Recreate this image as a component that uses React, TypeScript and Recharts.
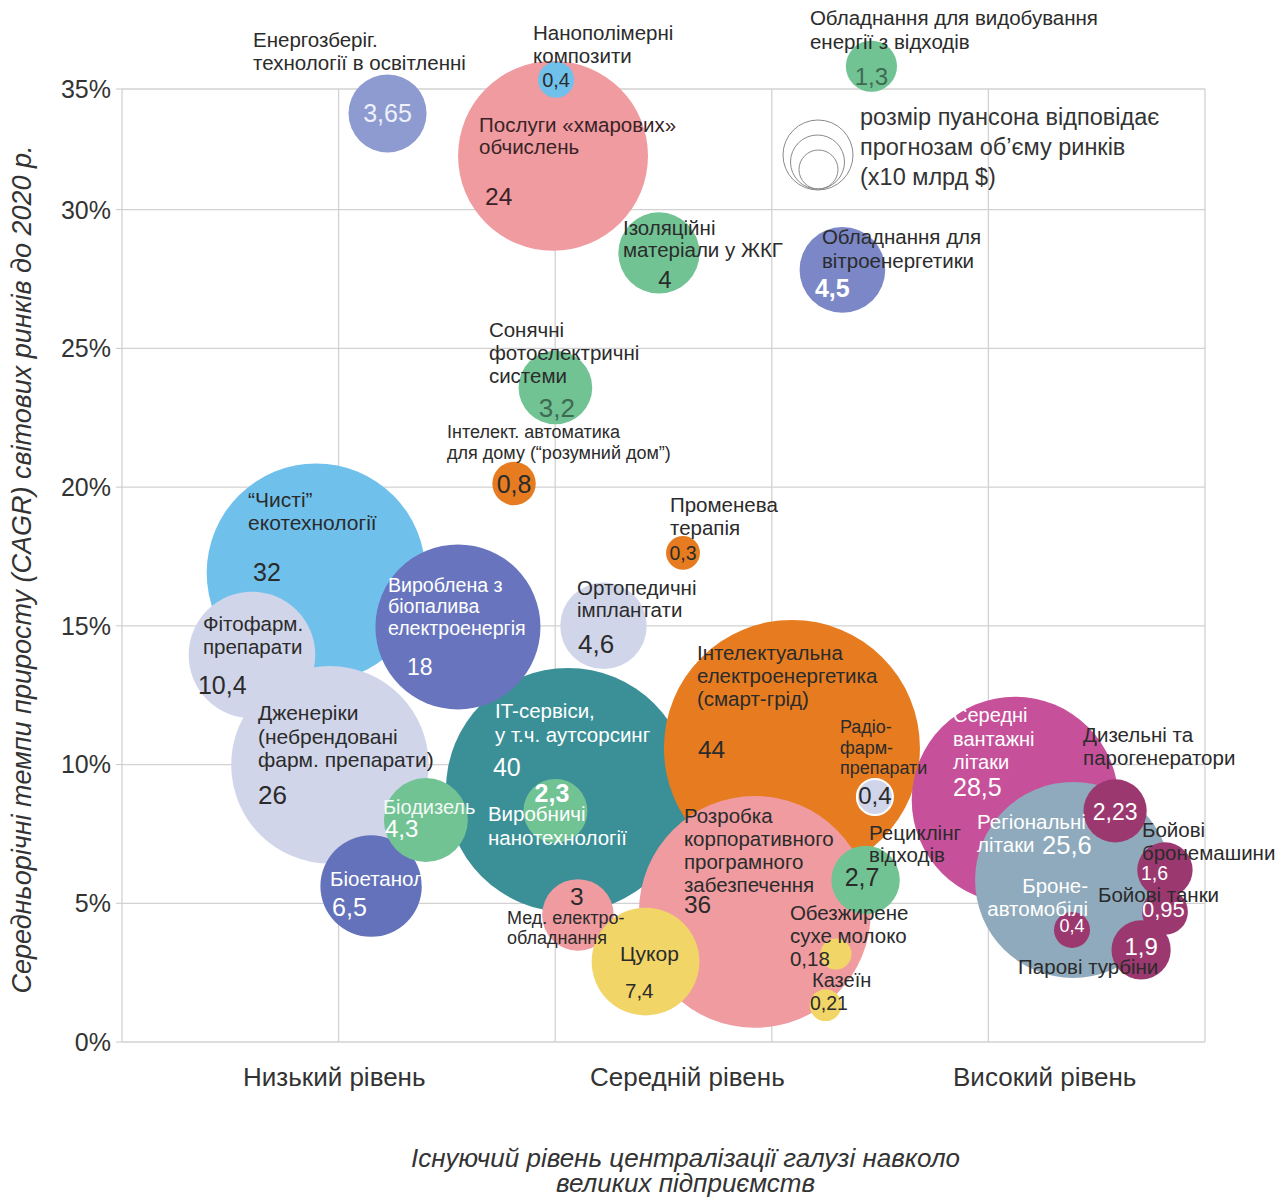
import { CartesianGrid, Label, Scatter, ScatterChart, XAxis, YAxis, ZAxis } from "recharts";

const FONT = '"Liberation Sans", Arial, sans-serif';
const DARK = "#2b2b2b";
const WHITE = "#ffffff";
const GREEN_TXT = "#3e6a52";

// bubbles, listed in drawing order (bottom to top)
const names = [
  "“Чисті”\nекотехнології",
  "Фітофарм.\nпрепарати",
  "Дженеріки\n(небрендовані\nфарм. препарати)",
  "IT-сервіси,\nу т.ч. аутсорсинг",
  "Вироблена з\nбіопалива\nелектроенергія",
  "Біоетанол",
  "Біодизель",
  "Виробничі\nнанотехнології",
  "Ортопедичні\nімплантати",
  "Інтелектуальна\nелектроенергетика\n(смарт-грід)",
  "Середні\nвантажні\nлітаки",
  "Розробка\nкорпоративного\nпрограмного\nзабезпечення",
  "Мед. електро-\nобладнання",
  "Цукор",
  "Рециклінг\nвідходів",
  "Радіо-\nфарм-\nпрепарати",
  "Обезжирене\nсухе молоко",
  "Казеїн",
  "Регіональні\nлітаки",
  "Дизельні та\nпарогенератори",
  "Бойові\nбронемашини",
  "Бойові танки",
  "Броне-\nавтомобілі",
  "Парові турбіни",
  "Послуги «хмарових»\nобчислень",
  "Нанополімерні\nкомпозити",
  "Енергозберіг.\nтехнології в освітленні",
  "Ізоляційні\nматеріали у ЖКГ",
  "Обладнання для\nвітроенергетики",
  "Обладнання для видобування\nенергії з відходів",
  "Сонячні\nфотоелектричні\nсистеми",
  "Інтелект. автоматика\nдля дому (“розумний дом”)",
  "Променева\nтерапія",
];

// position on the centralisation scale (0..5 grid columns)
const level = [
  0.896, 0.6, 0.96, 2.059, 1.551, 1.15, 1.403, 2.001, 2.223, 3.093, 4.123, 2.922, 2.105,
  2.417, 3.433, 3.476, 3.296, 3.248, 4.391, 4.585, 4.815, 4.815, 4.386, 4.705, 1.99, 2.004,
  1.226, 2.479, 3.326, 3.46, 2.001, 1.81, 2.59,
];

// CAGR to 2020, %
const cagr = [
  16.91, 13.95, 9.99, 9.08, 14.96, 5.62, 8.0, 8.33, 15.0, 10.6, 8.72, 4.69, 4.58, 2.9, 5.84,
  8.83, 3.17, 1.33, 5.84, 8.33, 6.2, 4.69, 4.04, 3.32, 31.94, 34.68, 33.47, 28.44, 27.83,
  35.17, 23.59, 20.13, 17.63,
];

// forecast market volume, x10 bn $
const volume = [
  32, 10.4, 26, 40, 18, 6.5, 4.3, 2.3, 4.6, 44, 28.5, 36, 3, 7.4, 2.7, 0.4, 0.18, 0.21, 25.6,
  2.23, 1.6, 0.95, 0.4, 1.9, 24, 0.4, 3.65, 4, 4.5, 1.3, 3.2, 0.8, 0.3,
];

const levelTicks = [0.98, 2.61, 4.26];
const levelNames = ["Низький рівень", "Середній рівень", "Високий рівень"];
const gridLevels = [0, 1, 2, 3, 4, 5];
const cagrTicks = [0, 5, 10, 15, 20, 25, 30, 34.35];

const fills = [
  "#6fc1ec", "#d1d5ea", "#d1d5ea", "#3b9097", "#6875be", "#6372ba", "#72c394", "#72c394",
  "#d1d5ea", "#e67c1f", "#c7509a", "#ef9ba0", "#ef9ba0", "#f2d567", "#72c394", "#d1d5ea",
  "#f2d567", "#f2d567", "#8faabc", "#9b386f", "#9b386f", "#9b386f", "#9b386f", "#9b386f",
  "#ef9ba0", "#6fc1ec", "#8d9bd0", "#72c394", "#7b87c7", "#72c394", "#72c394", "#e67c1f",
  "#e67c1f",
];

// label placement relative to bubble centre:
// [nameX, nameY, lineH, nameSize, nameColor, nameAnchor, valX, valY, valSize, valColor, valAnchor, bold]
type Place = [number, number, number, number, string, string, number, number, number, string, string, number];
const placement: Place[] = [
  [-68, -73, 23, 21, DARK, "start", -63, -1, 25, DARK, "start", 0],
  [-49, -31, 23, 20.5, DARK, "start", -54, 30, 25, DARK, "start", 0],
  [-72, -52, 23.5, 21, DARK, "start", -72, 30, 26, DARK, "start", 0],
  [-73, -80, 24, 20.5, WHITE, "start", -75, -23, 25, WHITE, "start", 0],
  [-70, -42, 21.5, 19.6, WHITE, "start", -51, 40, 23, WHITE, "start", 0],
  [-41, -8, 0, 20.5, WHITE, "start", -39, 21, 25, WHITE, "start", 0],
  [-43, -13, 0, 20, "#f2faf5", "start", -41, 8, 24, WHITE, "start", 0],
  [-67.5, 3, 23.5, 20.5, WHITE, "start", -3.5, -18, 25, WHITE, "middle", 1],
  [-26.5, -38, 22, 20.5, DARK, "start", -25.5, 18, 26, DARK, "start", 0],
  [-95, -95, 23, 20.5, DARK, "start", -94, 2, 24.5, DARK, "start", 0],
  [-62, -85, 23.5, 20, WHITE, "start", -62, -13, 25, WHITE, "start", 0],
  [-71, -96, 23, 20.5, DARK, "start", -71, -7, 24.5, DARK, "start", 0],
  [-71, 3, 20, 18, DARK, "start", -1, -18, 24.5, DARK, "middle", 0],
  [-25.5, -8.5, 0, 21, DARK, "start", -20.5, 28.5, 20.5, DARK, "start", 0],
  [3.5, -47, 22, 20.5, DARK, "start", -3.5, -3, 25, DARK, "middle", 0],
  [-35, -70, 20.5, 18, DARK, "start", 0, -2, 24, DARK, "middle", 0],
  [-46, -42, 23, 20.5, DARK, "start", -46, 4, 20.5, DARK, "start", 0],
  [-13.5, -25, 0, 20, DARK, "start", -15.5, -2, 19.5, DARK, "start", 0],
  [-96, -58, 23, 20.5, WHITE, "start", -31, -35, 25.5, WHITE, "start", 0],
  [-32, -76, 23, 20.5, DARK, "start", 0, 1, 23, WHITE, "middle", 0],
  [-23, -40, 23, 20.5, DARK, "start", -24, 3, 19.5, WHITE, "start", 0],
  [-67, -17, 0, 20.5, DARK, "start", -23, -2, 22, WHITE, "start", 0],
  [16, -44, 23, 20.5, WHITE, "end", 0, -4, 18, WHITE, "middle", 0],
  [-123, 17, 0, 20.5, DARK, "start", 0, -3, 24, WHITE, "middle", 0],
  [-74, -31, 22, 20.5, "#3a2326", "start", -68, 41, 24.5, "#3a2326", "start", 0],
  [-23, -47, 23, 20.5, DARK, "start", 0, 0, 20, DARK, "middle", 0],
  [-134.5, -73.5, 23, 20.5, DARK, "start", 0, 0, 25, "#eef0fa", "middle", 0],
  [-36, -25, 22, 20.5, DARK, "start", 6, 27, 24, DARK, "middle", 0],
  [-20.5, -33, 24, 20.5, DARK, "start", -27.5, 18, 25, WHITE, "start", 1],
  [-61.5, -48.5, 24, 20.5, DARK, "start", 0, 10.5, 24, GREEN_TXT, "middle", 0],
  [-66.5, -58.5, 23, 20.5, DARK, "start", 1.5, 20.5, 26, GREEN_TXT, "middle", 0],
  [-67, -51.5, 21, 18, DARK, "start", 0, 0, 25, DARK, "middle", 0],
  [-13, -48, 23, 20.5, DARK, "start", 0, 0, 19.5, DARK, "middle", 0],
];

const bubbles = names.map((name, i) => ({ i, name, x: level[i], y: cagr[i], z: volume[i] }));

const fmtVolume = (v: number) => String(v).replace(".", ",");

function BubbleShape(props: any) {
  const { cx, cy, width, payload } = props;
  const isRadio = payload.i === 15;
  return (
    <circle
      cx={cx}
      cy={cy}
      r={width / 2}
      fill={fills[payload.i]}
      stroke={isRadio ? "#ffffff" : "none"}
      strokeWidth={isRadio ? 2 : 0}
    />
  );
}

function BubbleText(props: any) {
  const { cx, cy, payload } = props;
  const [nx, ny, lh, ns, nc, na, vx, vy, vs, vc, va, vb] = placement[payload.i];
  const lines: string[] = payload.name.split("\n");
  return (
    <g fontFamily={FONT}>
      {lines.map((t, k) => (
        <text
          key={k}
          x={cx + nx}
          y={cy + ny + k * lh}
          fontSize={ns}
          fill={nc}
          textAnchor={na as any}
          dominantBaseline="central"
        >
          {t}
        </text>
      ))}
      <text
        x={cx + vx}
        y={cy + vy}
        fontSize={vs}
        fill={vc}
        fontWeight={vb ? 700 : 400}
        textAnchor={va as any}
        dominantBaseline="central"
      >
        {fmtVolume(payload.z)}
      </text>
    </g>
  );
}

function YTitle(props: any) {
  const { viewBox } = props;
  const y = viewBox.y + viewBox.height / 2 + 4;
  return (
    <text
      transform={`translate(22, ${y}) rotate(-90)`}
      textAnchor="middle"
      dominantBaseline="central"
      fontSize={27}
      fontStyle="italic"
      fill="#333"
      fontFamily={FONT}
    >
      Середньорічні темпи приросту (CAGR) світових ринків до 2020 р.
    </text>
  );
}

function XTitle(props: any) {
  const { viewBox } = props;
  const x = viewBox.x + viewBox.width / 2 + 22;
  return (
    <g fontFamily={FONT} fontSize={26} fontStyle="italic" fill="#333" textAnchor="middle">
      <text x={x} y={1158} dominantBaseline="central">
        Існуючий рівень централізації галузі навколо
      </text>
      <text x={x} y={1183} dominantBaseline="central">
        великих підприємств
      </text>
    </g>
  );
}

function SizeKey() {
  return (
    <div style={{ position: "absolute", left: 780, top: 100, width: 460, height: 100 }}>
      <svg width={460} height={100} style={{ fontFamily: FONT }}>
        <circle cx={38} cy={55} r={35} fill="none" stroke="#8a8a8a" />
        <circle cx={37.5} cy={62} r={27} fill="none" stroke="#8a8a8a" />
        <circle cx={38.5} cy={69.5} r={19.5} fill="none" stroke="#8a8a8a" />
        <g fontSize={23.5} fill="#333">
          <text x={80} y={17} dominantBaseline="central">розмір пуансона відповідає</text>
          <text x={80} y={47} dominantBaseline="central">прогнозам об’єму ринків</text>
          <text x={80} y={77} dominantBaseline="central">(х10 млрд $)</text>
        </g>
      </svg>
    </div>
  );
}

export default function App() {
  return (
    <div style={{ position: "absolute", left: 0, top: 0, width: 1282, height: 1198, background: "#fff" }}>
      <style>{".recharts-wrapper [clip-path] { clip-path: none !important; }"}</style>
      <ScatterChart
        width={1282}
        height={1198}
        margin={{ top: 89, right: 77, bottom: 96, left: 60 }}
        style={{ fontFamily: FONT }}
      >
        <CartesianGrid stroke="#d2d2d2" strokeWidth={1.3} verticalValues={gridLevels} />
        <XAxis
          type="number"
          dataKey="x"
          domain={[0, 5]}
          ticks={levelTicks}
          interval={0}
          allowDataOverflow
          tickFormatter={(v: number) => levelNames[levelTicks.indexOf(v)] ?? ""}
          axisLine={false}
          tickLine={false}
          tickMargin={20}
          height={60}
          tick={{ fontSize: 26, fill: "#333" }}
        >
          <Label content={XTitle} />
        </XAxis>
        <YAxis
          type="number"
          dataKey="y"
          domain={[0, 34.35]}
          ticks={cagrTicks}
          interval={0}
          allowDataOverflow
          tickFormatter={(v: number) => `${Math.round(v / 5) * 5}%`}
          axisLine={false}
          tickLine={{ stroke: "#c8c8c8" }}
          tickSize={6}
          tickMargin={5}
          width={62}
          tick={{ fontSize: 25, fill: "#333" }}
        >
          <Label content={YTitle} />
        </YAxis>
        <ZAxis type="number" dataKey="z" domain={[0, 44]} range={[556, 51472]} />
        <Scatter data={bubbles} shape={BubbleShape} isAnimationActive={false} />
        <Scatter data={bubbles} shape={BubbleText} isAnimationActive={false} />
      </ScatterChart>
      <SizeKey />
    </div>
  );
}
